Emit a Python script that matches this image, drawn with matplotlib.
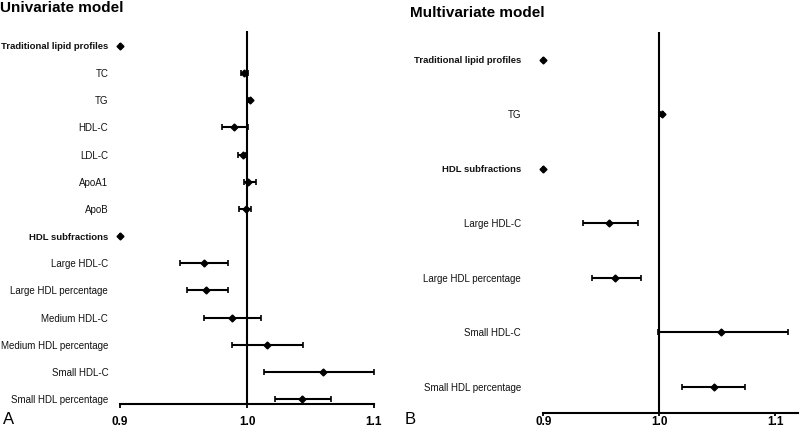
import matplotlib
matplotlib.use("Agg")
import numpy as np
from matplotlib import pyplot as plt

plt.rcParams['font.family'] = ['Liberation Sans', 'DejaVu Sans']

# univariate model
uni_labels = ['Traditional lipid profiles', 'TC', 'TG', 'HDL-C', 'LDL-C', 'ApoA1', 'ApoB',
              'HDL subfractions', 'Large HDL-C', 'Large HDL percentage', 'Medium HDL-C',
              'Medium HDL percentage', 'Small HDL-C', 'Small HDL percentage']
uni_header = [True, False, False, False, False, False, False,
              True, False, False, False, False, False, False]
uni_est = [0.9, 0.998, 1.002, 0.990, 0.997, 1.001, 0.999,
           0.9, 0.966, 0.968, 0.988, 1.016, 1.060, 1.043]
uni_lo = [0.9, 0.995, 1.001, 0.980, 0.993, 0.998, 0.994,
          0.9, 0.947, 0.953, 0.966, 0.988, 1.013, 1.022]
uni_hi = [0.9, 1.001, 1.003, 1.001, 0.999, 1.007, 1.003,
          0.9, 0.985, 0.985, 1.011, 1.044, 1.100, 1.066]

# multivariate model
multi_labels = ['Traditional lipid profiles', 'TG', 'HDL subfractions', 'Large HDL-C',
                'Large HDL percentage', 'Small HDL-C', 'Small HDL percentage']
multi_header = [True, False, True, False, False, False, False]
multi_est = [0.9, 1.002, 0.9, 0.957, 0.962, 1.053, 1.047]
multi_lo = [0.9, 1.001, 0.9, 0.934, 0.942, 0.999, 1.020]
multi_hi = [0.9, 1.003, 0.9, 0.982, 0.984, 1.111, 1.074]


def forest(ax, labels, header, est, lo, hi, xmax, ylim, lpad, xpad, tlen):
    y = -np.arange(len(labels))
    est = np.array(est)
    err = np.array([est - np.array(lo), np.array(hi) - est])
    eb = ax.errorbar(est, y, xerr=err, fmt='D', color='black', ms=3.5,
                     elinewidth=1.5, capsize=2, capthick=1.2)
    for a in eb.get_children():
        a.set_clip_on(False)
    ax.axvline(1.0, color='black', lw=1.5)
    ax.set_xlim(0.9, xmax)
    ax.set_ylim(*ylim)
    ax.set_xticks([0.9, 1.0, 1.1])
    ax.set_xticklabels(['0.9', '1.0', '1.1'], fontweight='bold', fontsize=8.5)
    ax.set_yticks(y)
    ax.set_yticklabels(labels, fontsize=7)
    for t, h in zip(ax.get_yticklabels(), header):
        if h:
            t.set_fontweight('bold')
            t.set_fontsize(6.8)
        t.set_color('#111111')
    ax.tick_params(axis='y', length=0, pad=lpad)
    ax.tick_params(axis='x', length=tlen, width=1.3, pad=xpad)
    for s in ['top', 'right', 'left']:
        ax.spines[s].set_visible(False)
    ax.spines['bottom'].set_linewidth(1.5)


fig = plt.figure(figsize=(8, 4.29), dpi=100)
ax1 = fig.add_axes([0.15, 0.0583, 0.3175, 0.8694])
ax2 = fig.add_axes([0.679, 0.0375, 0.319, 0.8879])

forest(ax1, uni_labels, uni_header, uni_est, uni_lo, uni_hi, 1.1, (-13.18, 0.55), 8.5, 6, 3)
forest(ax2, multi_labels, multi_header, multi_est, multi_lo, multi_hi, 1.12, (-6.48, 0.51), 16, 0.5, 2)

fig.text(0.0, 0.982, 'Univariate model', fontsize=11, fontweight='bold', va='center')
fig.text(0.5125, 0.97, 'Multivariate model', fontsize=11, fontweight='bold', va='center')
fig.text(0.004, 0.021, 'A', fontsize=12, va='center')
fig.text(0.506, 0.021, 'B', fontsize=12, va='center')

fig.savefig('out.png', dpi=100)
